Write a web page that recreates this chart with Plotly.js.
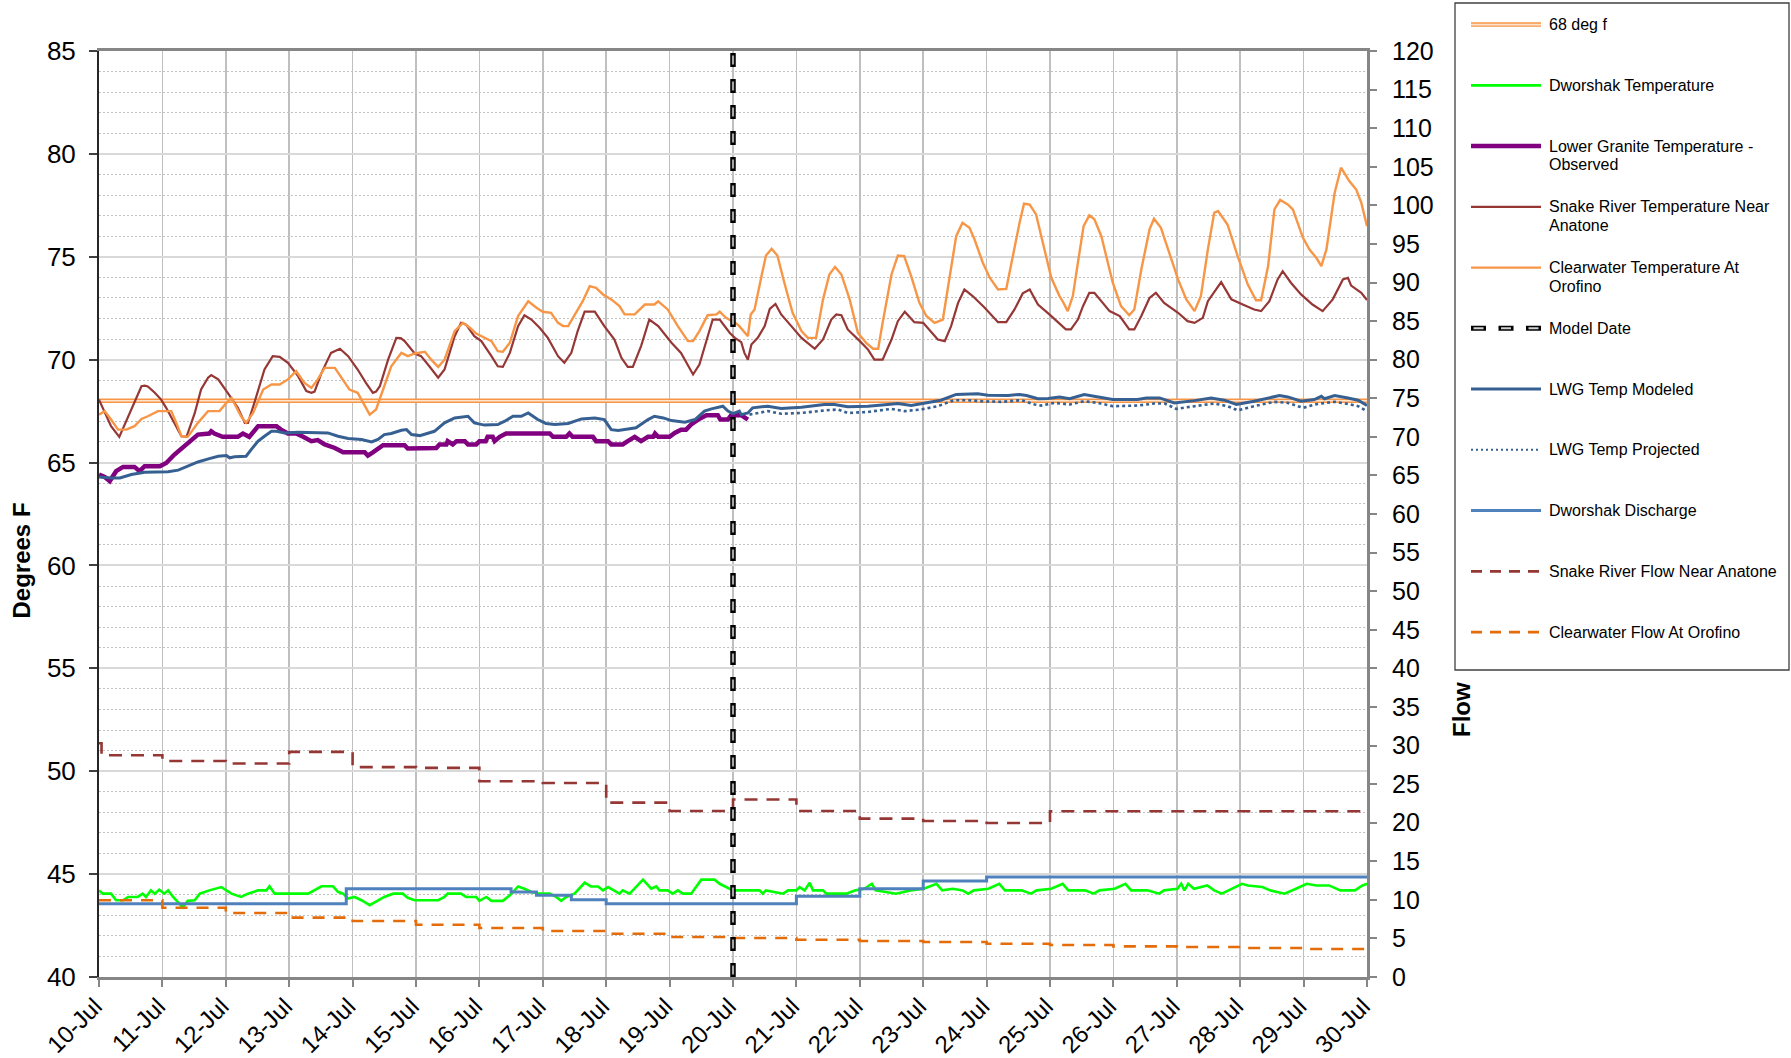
<!DOCTYPE html>
<html><head><meta charset="utf-8">
<script src="https://cdn.plot.ly/plotly-3.0.1.min.js"></script>
<style>html,body{margin:0;padding:0;background:#fff}#chart{width:1791px;height:1058px}</style>
</head><body><div id="chart"></div>
<script>
// ---------- DATA (days after 10-Jul) ----------
const dayLabels = ['10-Jul','11-Jul','12-Jul','13-Jul','14-Jul','15-Jul','16-Jul','17-Jul','18-Jul','19-Jul','20-Jul',
  '21-Jul','22-Jul','23-Jul','24-Jul','25-Jul','26-Jul','27-Jul','28-Jul','29-Jul','30-Jul'];

const thresholdDays = [0, 20];
const thresholdF = [68, 68];

const modelDateDay = [10, 10];

const snakeTempDays = [0,0.19,0.32,0.51,0.67,0.72,0.77,0.88,0.98,1.06,1.19,1.3,1.38,1.51,1.61,1.72,1.77,1.88,2.03,2.19,2.3,2.35,2.45,2.61,2.74,2.85,2.98,3.14,3.27,3.35,3.4,3.51,3.66,3.8,3.93,4.08,4.21,4.32,4.37,4.43,4.56,4.69,4.76,4.82,4.98,5.08,5.21,5.35,5.45,5.61,5.71,5.79,5.92,6.03,6.19,6.29,6.37,6.48,6.61,6.71,6.82,6.95,7.08,7.24,7.34,7.45,7.55,7.66,7.82,7.97,8.13,8.24,8.34,8.42,8.55,8.68,8.82,9.03,9.18,9.29,9.37,9.47,9.6,9.68,9.79,9.95,10.03,10.13,10.18,10.235,10.29,10.39,10.5,10.58,10.67,10.76,10.92,11.08,11.29,11.42,11.55,11.63,11.71,11.81,12,12.13,12.23,12.36,12.5,12.6,12.71,12.86,13,13.13,13.23,13.34,13.44,13.55,13.65,13.78,13.97,14.18,14.31,14.44,14.57,14.68,14.81,14.99,15.12,15.25,15.33,15.44,15.52,15.62,15.7,15.81,15.94,16.1,16.25,16.33,16.44,16.57,16.67,16.8,17.02,17.17,17.28,17.41,17.49,17.7,17.86,18.04,18.22,18.33,18.46,18.59,18.67,18.8,18.96,19.14,19.3,19.46,19.62,19.7,19.75,19.91,20];
const snakeTempF = [68.06,66.77,66.25,67.58,68.71,68.74,68.7,68.39,68.06,67.66,66.93,66.28,66.25,67.4,68.55,69.12,69.25,69.04,68.39,67.66,66.93,66.93,67.9,69.52,70.17,70.14,69.85,69.2,68.47,68.39,68.45,69.36,70.33,70.53,70.17,69.52,68.87,68.39,68.45,68.71,70,71.06,71.05,70.9,70.3,70.17,69.68,69.12,69.52,71.14,71.79,71.7,71.14,70.9,70.17,69.68,69.65,70.33,71.63,72.16,71.95,71.55,71.06,70.17,69.85,70.33,71.39,72.33,72.33,71.63,70.98,70.09,69.65,69.65,70.66,71.95,71.63,70.82,70.33,69.68,69.28,69.76,71.14,71.95,71.95,71.3,71.06,70.85,70.33,70,70.74,71.06,71.63,72.47,72.71,72.2,71.63,71.06,70.53,70.98,71.95,72.2,72.16,71.47,70.9,70.49,70,70,70.98,71.87,72.33,71.82,71.79,71.3,70.98,70.9,71.63,72.76,73.41,73.09,72.52,71.82,71.82,72.44,73.22,73.41,72.68,72.2,71.85,71.47,71.47,71.95,72.6,73.25,73.25,72.84,72.36,72.12,71.47,71.47,72.12,73,73.25,72.76,72.28,71.87,71.79,72.03,72.84,73.77,72.93,72.68,72.44,72.36,72.84,73.9,74.3,73.74,73.17,72.68,72.36,72.93,73.9,73.98,73.6,73.25,72.9];

const clearTempDays = [0,0.09,0.19,0.3,0.43,0.56,0.67,0.77,0.93,1.14,1.22,1.3,1.4,1.56,1.72,1.9,2.01,2.09,2.24,2.32,2.43,2.59,2.72,2.85,2.98,3.11,3.24,3.35,3.45,3.56,3.72,3.85,3.95,4.08,4.19,4.27,4.37,4.5,4.61,4.77,4.87,4.98,5.14,5.24,5.35,5.45,5.61,5.74,5.85,5.95,6.08,6.19,6.29,6.37,6.48,6.61,6.77,6.9,7,7.13,7.24,7.32,7.4,7.53,7.63,7.74,7.84,7.95,8.08,8.21,8.29,8.45,8.55,8.61,8.76,8.82,8.97,9.13,9.29,9.37,9.47,9.6,9.74,9.79,9.89,10.03,10.1,10.235,10.28,10.34,10.45,10.52,10.61,10.7,10.81,10.94,11.08,11.18,11.31,11.42,11.52,11.61,11.71,11.84,11.97,12.1,12.21,12.29,12.36,12.5,12.6,12.7,12.81,12.94,13.05,13.18,13.31,13.44,13.52,13.62,13.73,13.81,13.94,14.05,14.18,14.31,14.41,14.52,14.59,14.68,14.78,14.91,15.02,15.15,15.2,15.28,15.36,15.44,15.53,15.62,15.7,15.81,15.99,16.12,16.25,16.33,16.44,16.57,16.64,16.75,16.88,17.02,17.15,17.28,17.38,17.49,17.59,17.65,17.8,17.96,18.12,18.25,18.33,18.44,18.54,18.63,18.75,18.83,18.99,19.09,19.2,19.28,19.36,19.49,19.59,19.72,19.83,19.91,20];
const clearTempF = [67.33,67.5,67.09,66.6,66.6,66.77,67.12,67.25,67.5,67.5,66.93,66.28,66.25,66.93,67.5,67.5,67.9,68.14,67.25,66.93,67.41,68.55,68.79,68.79,69.04,69.44,68.87,68.63,69.04,69.6,69.6,69.04,68.55,68.39,67.74,67.33,67.58,68.71,69.68,70.33,70.17,70.3,70.38,70,69.65,70,71.39,71.79,71.55,71.27,71.06,70.9,70.41,70.38,70.82,72.12,72.84,72.52,72.33,72.28,71.79,71.63,71.63,72.28,72.84,73.57,73.49,73.17,72.93,72.6,72.2,72.2,72.52,72.68,72.68,72.84,72.44,71.63,70.9,70.9,71.39,72.16,72.2,72.33,72.03,71.8,71.63,71.14,72.2,72.44,74.06,75.06,75.39,75.06,73.74,72.28,71.39,71.06,71.06,72.93,74.14,74.51,74.14,72.93,71.3,70.82,70.53,70.53,71.79,74.14,75.06,75.03,74.06,72.76,72.12,71.79,71.95,74.55,76,76.65,76.41,75.84,74.71,73.98,73.41,73.44,75.03,76.65,77.58,77.54,77.06,75.36,73.98,73.09,72.84,72.36,73.09,74.71,76.49,77.01,76.82,76,73.74,72.6,72.16,72.44,74.38,76.33,76.85,76.41,75.19,73.9,72.93,72.36,73.09,75.36,77.14,77.22,76.57,75.03,73.65,72.89,72.89,74.55,77.3,77.76,77.54,77.3,75.92,75.36,74.95,74.55,75.36,78.11,79.33,78.68,78.27,77.63,76.49];

const lgObsDays = [0,0.09,0.17,0.27,0.38,0.56,0.64,0.72,0.96,1.06,1.19,1.32,1.45,1.56,1.74,1.77,1.82,1.95,2.19,2.27,2.37,2.51,2.8,2.87,2.98,3.11,3.22,3.35,3.45,3.56,3.72,3.85,4.19,4.24,4.32,4.48,4.82,4.87,5.32,5.37,5.48,5.5,5.58,5.64,5.77,5.82,5.95,6,6.1,6.13,6.21,6.24,6.32,6.42,7.11,7.16,7.37,7.42,7.47,7.79,7.84,8.03,8.08,8.26,8.34,8.45,8.55,8.66,8.74,8.77,8.82,9,9.08,9.18,9.26,9.34,9.45,9.58,9.76,9.8,9.92,9.97,10.13,10.18,10.235];
const lgObsF = [64.42,64.3,64.1,64.58,64.79,64.79,64.58,64.82,64.82,64.98,65.39,65.71,66.04,66.36,66.41,66.52,66.41,66.25,66.25,66.41,66.25,66.77,66.77,66.6,66.41,66.41,66.25,66.04,66.09,65.88,65.71,65.5,65.5,65.34,65.5,65.84,65.84,65.68,65.71,65.88,65.88,66.04,65.88,66.04,66.04,65.88,65.88,66.04,66.04,66.25,66.25,66.04,66.25,66.41,66.41,66.25,66.25,66.41,66.25,66.25,66.04,66.04,65.88,65.88,66.04,66.25,66.04,66.25,66.25,66.41,66.25,66.25,66.44,66.6,66.6,66.85,67.09,67.3,67.3,67.09,67.09,67.3,67.3,67.17,67.09];

const lwgModDays = [0,0.19,0.33,0.51,0.72,1.09,1.25,1.4,1.56,1.74,1.88,2.01,2.06,2.14,2.32,2.4,2.51,2.61,2.72,2.8,2.93,3.14,3.4,3.61,3.77,3.93,4.14,4.3,4.4,4.5,4.61,4.77,4.85,4.93,5.06,5.19,5.29,5.45,5.61,5.82,5.92,6.08,6.29,6.4,6.53,6.66,6.77,6.92,7.05,7.19,7.4,7.61,7.82,7.97,8.08,8.19,8.34,8.47,8.66,8.76,8.9,9.03,9.24,9.4,9.55,9.66,9.84,9.92,10,10.1,10.13,10.235,10.31,10.55,10.76,11.08,11.44,11.6,11.81,12.13,12.44,12.6,12.81,13.05,13.28,13.52,13.71,13.86,14.02,14.34,14.52,14.63,14.81,14.97,15.15,15.31,15.54,15.75,15.99,16.38,16.52,16.73,16.96,17.28,17.54,17.75,17.94,18.22,18.49,18.62,18.75,18.96,19.17,19.28,19.33,19.49,19.7,19.86,20];
const lwgModF = [64.3,64.25,64.25,64.42,64.53,64.55,64.63,64.82,65.03,65.19,65.31,65.34,65.23,65.28,65.31,65.63,66.04,66.28,66.52,66.52,66.44,66.47,66.47,66.44,66.28,66.17,66.12,66,66.12,66.36,66.41,66.57,66.6,66.36,66.31,66.41,66.52,66.93,67.17,67.25,66.93,66.82,66.85,67.01,67.25,67.25,67.41,67.09,66.9,66.85,66.9,67.12,67.17,67.09,66.6,66.56,66.64,66.69,67.09,67.25,67.17,67.04,66.96,67.09,67.5,67.61,67.74,67.5,67.38,67.5,67.33,67.41,67.66,67.74,67.63,67.69,67.82,67.82,67.71,67.74,67.82,67.87,67.77,67.9,68.03,68.31,68.31,68.34,68.27,68.26,68.31,68.26,68.1,68.11,68.18,68.1,68.31,68.18,68.06,68.06,68.14,68.14,67.9,68.01,68.14,68.03,67.82,67.98,68.19,68.26,68.19,67.98,68.06,68.22,68.1,68.26,68.14,68.03,67.77];

const lwgProjDays = [10.26,10.55,10.76,11.08,11.44,11.65,11.81,12.13,12.5,12.71,12.97,13.23,13.49,13.71,13.92,14.23,14.55,14.76,14.86,15.07,15.31,15.54,15.75,15.99,16.38,16.65,16.81,16.99,17.28,17.59,17.8,17.96,18.22,18.54,18.75,18.99,19.22,19.49,19.7,19.86,20];
const lwgProjF = [67.33,67.5,67.37,67.41,67.53,67.58,67.41,67.46,67.61,67.5,67.58,67.74,68.03,68.03,67.98,67.95,68.03,67.82,67.77,67.9,67.82,67.98,67.9,67.74,67.77,67.87,67.87,67.61,67.74,67.87,67.74,67.54,67.74,67.95,67.9,67.66,67.85,67.95,67.85,67.74,67.5];

const dworTempDays = [0,0.06,0.19,0.27,0.38,0.46,0.61,0.69,0.74,0.82,0.88,0.95,1.03,1.09,1.17,1.27,1.32,1.4,1.51,1.59,1.74,1.93,2.01,2.09,2.24,2.35,2.51,2.64,2.69,2.77,3.3,3.4,3.51,3.69,3.77,3.85,3.93,4.03,4.14,4.27,4.37,4.5,4.64,4.79,4.87,4.98,5.35,5.45,5.5,5.71,5.79,5.95,6,6.11,6.19,6.37,6.48,6.61,6.71,6.82,6.95,7.11,7.21,7.29,7.37,7.5,7.66,7.76,7.87,7.95,8.03,8.11,8.21,8.26,8.37,8.42,8.58,8.71,8.79,8.84,8.97,9.05,9.13,9.21,9.34,9.5,9.71,9.79,9.87,10,10.42,10.47,10.52,10.79,10.87,11,11.05,11.13,11.21,11.26,11.42,11.47,11.79,11.93,12.07,12.19,12.25,12.45,12.57,12.69,12.8,13.01,13.21,13.3,13.47,13.62,13.71,13.8,14.03,14.2,14.29,14.55,14.7,14.79,15.02,15.2,15.29,15.55,15.69,15.78,16.02,16.19,16.28,16.54,16.72,16.8,17.01,17.07,17.12,17.18,17.27,17.48,17.59,17.71,17.88,18.03,18.12,18.35,18.47,18.7,18.88,19.05,19.2,19.4,19.58,19.81,19.93,20];
const dworTempF = [44.2,44.05,44.05,43.73,43.73,43.89,43.89,44.05,43.89,44.21,44.05,44.24,44.05,44.21,43.89,43.57,43.38,43.7,43.73,44.05,44.21,44.37,44.21,44.05,43.89,44.05,44.21,44.21,44.41,44.05,44.05,44.21,44.41,44.41,44.14,44.05,43.81,43.89,43.73,43.49,43.65,43.89,44.05,44.05,43.85,43.73,43.73,43.89,44.05,44.05,43.89,43.89,43.7,43.89,43.7,43.7,43.97,44.4,44.29,44.13,44.05,44.05,43.89,43.7,43.89,44.05,44.58,44.4,44.4,44.21,44.37,44.21,44.05,44.21,44.05,44.21,44.73,44.29,44.4,44.21,44.21,44.05,44.21,44.05,44.05,44.73,44.73,44.53,44.4,44.21,44.21,44.05,44.21,44.05,44.21,44.21,44.37,44.21,44.58,44.21,44.21,44.05,44.05,44.21,44.29,44.53,44.21,44.13,44.05,44.13,44.21,44.29,44.53,44.21,44.29,44.21,44.05,44.21,44.29,44.53,44.21,44.21,44.05,44.21,44.29,44.53,44.21,44.21,44.05,44.21,44.29,44.53,44.21,44.21,44.05,44.21,44.29,44.53,44.21,44.53,44.29,44.45,44.21,44.05,44.29,44.53,44.45,44.37,44.21,44.05,44.29,44.53,44.45,44.45,44.21,44.21,44.45,44.53];

const dischargeDays = [0,3.9,6.5,6.9,7.45,8,11,12,13,14,20];
const dischargeFlow = [9.5,11.45,11.0,10.58,10.02,9.5,10.45,11.45,12.44,12.96,12.96];

const snakeFlowDays = [0,0.04,1,2,3,4,5,6,7,8,9,10,11,12,13,14,15,16,17,18,19,20];
const snakeFlow = [30.3,28.74,28.0,27.66,29.17,27.2,27.1,25.37,25.15,22.6,21.52,23.0,21.52,20.53,20.22,19.96,21.48,21.48,21.48,21.48,21.48,21.48];

const clearFlowDays = [0,1,2,3,4,5,6,7,8,9,10,11,12,13,14,15,16,17,18,19,20];
const clearFlow = [9.95,8.98,8.29,7.69,7.25,6.78,6.35,5.96,5.61,5.18,5.05,4.83,4.66,4.53,4.31,4.14,3.97,3.88,3.75,3.62,3.62];

const tempRange = [40, 85];
const flowRange = [0, 120];

const legendLabels = ['68 deg f','Dworshak Temperature','Lower Granite Temperature -<br>Observed',
  'Snake River Temperature Near<br>Anatone','Clearwater Temperature At<br>Orofino','Model Date',
  'LWG Temp Modeled','LWG Temp Projected','Dworshak Discharge','Snake River Flow Near Anatone','Clearwater Flow At Orofino'];

// ---------- STYLES ----------
const S = {
  thrOuter:{color:'#F79646',width:4.5}, thrInner:{color:'#FDE4CF',width:1.6},
  dworTemp:{color:'#00FF00',width:2.6},
  lgObs:{color:'#800080',width:4.5},
  snakeT:{color:'#953735',width:2.2},
  clearT:{color:'#F79646',width:2.4},
  mdOuter:{color:'#000000',width:5.5,dash:'14px,12px'}, mdInner:{color:'#A6A6A6',width:2.2,dash:'0px,2.5px,9px,14.5px'},
  lwgMod:{color:'#376092',width:3},
  lwgProj:{color:'#376092',width:2.6,dash:'3px,3px'},
  disch:{color:'#4F81BD',width:3},
  snakeQ:{color:'#953735',width:2.6,dash:'13px,9px'},
  clearQ:{color:'#E46C0A',width:2.6,dash:'12px,9px'}
};

// ---------- BUILD ----------
const DAY = 864e5, start = Date.UTC(2011, 6, 10);
const X = ds => ds.map(d => start + d * DAY);
const tickvals = dayLabels.map((_, i) => start + i * DAY);

function tr(days, vals, line, axis, shape) {
  return {x: X(days), y: vals, type:'scatter', mode:'lines', yaxis: axis || 'y',
    line: Object.assign({shape: shape || 'linear'}, line), hoverinfo:'skip', showlegend:false};
}
const W = 1791, H = 1058, M = {l:99, r:424, t:51, b:81};
const PW = W - M.l - M.r, PH = H - M.t - M.b;
const px = x => (x - M.l) / PW, py = y => (H - M.b - y) / PH;

const traces = [
  tr(thresholdDays, thresholdF, S.thrOuter),
  tr(thresholdDays, thresholdF, S.thrInner),
  tr(dworTempDays, dworTempF, S.dworTemp),
  tr(lgObsDays, lgObsF, S.lgObs),
  tr(snakeTempDays, snakeTempF, S.snakeT),
  tr(clearTempDays, clearTempF, S.clearT),
  tr(lwgModDays, lwgModF, S.lwgMod),
  tr(lwgProjDays, lwgProjF, S.lwgProj),
  tr(dischargeDays, dischargeFlow, S.disch, 'y2', 'hv'),
  tr(snakeFlowDays, snakeFlow, S.snakeQ, 'y2', 'hv'),
  tr(clearFlowDays, clearFlow, S.clearQ, 'y2', 'hv'),
  tr(modelDateDay, flowRange, S.mdOuter, 'y2'),
  tr(modelDateDay, flowRange, S.mdInner, 'y2')
];

// custom legend
const shapes = [{type:'rect', xref:'paper', yref:'paper', x0:px(1455), x1:px(1789), y0:py(670), y1:py(3),
  line:{color:'#404040', width:1.3}, fillcolor:'rgba(0,0,0,0)'}];
const annotations = [];
const legendStyles = [[S.thrOuter,S.thrInner],[S.dworTemp],[S.lgObs],[S.snakeT],[S.clearT],
  [{color:'#000',width:5,dash:'15px,12.5px'},{color:'#D0D0D0',width:2,dash:'0px,2.5px,10px,15px'}],
  [S.lwgMod],[{color:'#376092',width:2,dash:'2px,3px'}],[S.disch],[{color:'#953735',width:2.6,dash:'11px,8px'}],[{color:'#E46C0A',width:2.6,dash:'11px,8px'}]];
legendLabels.forEach((lab, i) => {
  const y = 24.6 + i * 60.75;
  legendStyles[i].forEach(ls => shapes.push({type:'line', xref:'paper', yref:'paper',
    x0:px(1471), x1:px(1541), y0:py(y), y1:py(y), line:ls}));
  lab.split('<br>').forEach((t, k) => annotations.push({xref:'paper', yref:'paper', x:px(1547), y:py(y + k*18.7),
    xanchor:'left', yanchor:'middle', text:t, showarrow:false, font:{size:16, color:'#000'}}));
});
annotations.push({xref:'paper', yref:'paper', x:px(20.5), y:py(561), text:'<b>Degrees F</b>', textangle:-90,
  showarrow:false, font:{size:24, color:'#000'}, xanchor:'center', yanchor:'middle'});
annotations.push({xref:'paper', yref:'paper', x:px(1461), y:py(710), text:'<b>Flow</b>', textangle:-90,
  showarrow:false, font:{size:24, color:'#000'}, xanchor:'center', yanchor:'middle'});

const layout = {
  width:W, height:H, margin:M, paper_bgcolor:'#fff', plot_bgcolor:'#fff', showlegend:false,
  font:{family:'Liberation Sans, Arial, sans-serif', color:'#000'},
  xaxis:{type:'date', range:[start, start + 20*DAY], tickmode:'array', tickvals:tickvals, ticktext:dayLabels,
    tickangle:-45, tickfont:{size:24}, ticks:'outside', ticklen:7, tickwidth:2, tickcolor:'#868686',
    ticklabelstandoff:-4, ticklabelshift:-4,
    showgrid:true, gridcolor:'#BFBFBF', gridwidth:1.5, showline:true, linecolor:'#868686', linewidth:3,
    mirror:true, zeroline:false, fixedrange:true},
  yaxis:{range:tempRange, tick0:40, dtick:5, ticks:'outside', ticklen:8, tickwidth:2, tickcolor:'#404040',
    showline:true, linecolor:'#262626', linewidth:2, showgrid:true, gridcolor:'#D9D9D9', gridwidth:2,
    minor:{dtick:1, showgrid:true, gridcolor:'#C0C0C0', gridwidth:1, griddash:'2px,2px'},
    tickfont:{size:26}, zeroline:false, ticklabelstandoff:8},
  yaxis2:{overlaying:'y', side:'right', range:flowRange, tick0:0, dtick:5, ticks:'outside', ticklen:7,
    tickwidth:2, tickcolor:'#868686', showline:true, linecolor:'#868686', linewidth:3, showgrid:false,
    zeroline:false, tickfont:{size:25}, ticklabelstandoff:10},
  shapes:shapes, annotations:annotations
};
Plotly.newPlot('chart', traces, layout, {displayModeBar:false, staticPlot:true});
</script></body></html>
